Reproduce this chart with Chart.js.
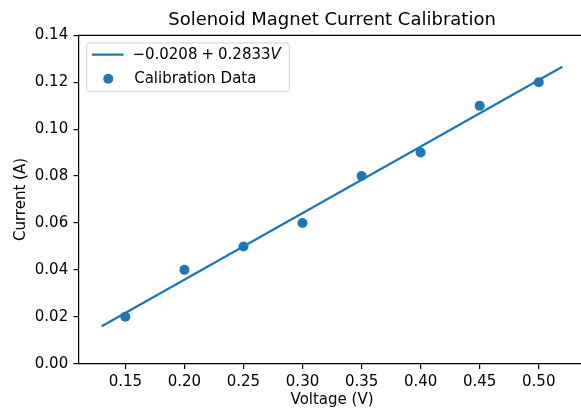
<!DOCTYPE html>
<html>
<head>
<meta charset="utf-8">
<script src="https://cdn.jsdelivr.net/npm/chart.js@4/dist/chart.umd.min.js"></script>
<style>
  html, body { margin: 0; padding: 0; background: #fff; overflow: hidden; }
  #wrap { width: 581px; height: 410px; overflow: hidden; }
</style>
</head>
<body>
<div id="wrap"><canvas id="grafico" width="664" height="410"></canvas></div>
<script>
// dados de calibração
const voltage = [0.15, 0.20, 0.25, 0.30, 0.35, 0.40, 0.45, 0.50];
const current = [0.02, 0.04, 0.05, 0.06, 0.08, 0.09, 0.11, 0.12];

// reta ajustada (extremos)
const fitVoltage = [0.13, 0.52];
const fitCurrent = [0.016, 0.1266];

const xTickValues = [0.15, 0.20, 0.25, 0.30, 0.35, 0.40, 0.45, 0.50];
const yTickValues = [0.00, 0.02, 0.04, 0.06, 0.08, 0.10, 0.12, 0.14];

// legenda: "−0.0208 + 0.2833V" em pedaços (V em itálico)
const fitLabel = ['\u22120.0208', '+', '0.2833', 'V'];
const dataLabel = 'Calibration Data';

const azul = '#1f77b4';
const fonte = "'DejaVu Sans', sans-serif";

Chart.defaults.color = '#000';
Chart.defaults.font.family = fonte;

// moldura de cima/direita + legenda dentro do gráfico
const extras = {
    id: 'extras',
    afterDraw(chart) {
        const ctx = chart.ctx;
        const a = chart.chartArea;
        ctx.save();
        ctx.strokeStyle = '#000';
        ctx.lineWidth = 1.2;
        ctx.beginPath();
        ctx.moveTo(a.left, a.top);
        ctx.lineTo(a.right, a.top);
        ctx.lineTo(a.right, a.bottom);
        ctx.stroke();

        // caixa da legenda
        const bx = a.left + 8, by = a.top + 7.7, bw = 202.6, bh = 48.3, r = 3;
        ctx.fillStyle = 'rgba(255,255,255,0.8)';
        ctx.strokeStyle = '#d0d0d0';
        ctx.lineWidth = 1;
        ctx.beginPath();
        ctx.roundRect(bx, by, bw, bh, r);
        ctx.fill();
        ctx.stroke();

        const y1 = by + 11.7, y2 = by + 35.7;
        ctx.strokeStyle = azul;
        ctx.lineWidth = 2.25;
        ctx.beginPath();
        ctx.moveTo(bx + 5.2, y1);
        ctx.lineTo(bx + 36.8, y1);
        ctx.stroke();

        ctx.fillStyle = azul;
        ctx.beginPath();
        ctx.arc(bx + 21.6, y2, 5, 0, Math.PI * 2);
        ctx.fill();

        ctx.fillStyle = '#000';
        ctx.textBaseline = 'middle';
        ctx.textAlign = 'left';
        const normal = '15px ' + fonte;
        const italico = 'italic 15px ' + fonte;
        let x = bx + 45.7;
        const gap = 4;
        ctx.font = normal;
        ctx.fillText(fitLabel[0], x, y1);
        x += ctx.measureText(fitLabel[0]).width + gap;
        ctx.fillText(fitLabel[1], x, y1);
        x += ctx.measureText(fitLabel[1]).width + gap;
        ctx.fillText(fitLabel[2], x, y1);
        x += ctx.measureText(fitLabel[2]).width;
        ctx.font = italico;
        ctx.fillText(fitLabel[3], x, y1);

        ctx.font = normal;
        ctx.fillText(dataLabel, bx + 47.5, y2);
        ctx.restore();
    }
};

new Chart(document.getElementById('grafico'), {
    type: 'scatter',
    data: {
        datasets: [
            {
                label: dataLabel,
                data: voltage.map((v, i) => ({ x: v, y: current[i] })),
                backgroundColor: azul,
                borderWidth: 0,
                pointRadius: 5,
                pointHoverRadius: 5
            },
            {
                type: 'line',
                label: fitLabel.join(' '),
                data: fitVoltage.map((v, i) => ({ x: v, y: fitCurrent[i] })),
                borderColor: azul,
                borderWidth: 2.25,
                pointRadius: 0,
                fill: false,
                tension: 0
            }
        ]
    },
    options: {
        responsive: false,
        animation: false,
        devicePixelRatio: 1,
        layout: { padding: 0 },
        plugins: {
            legend: { display: false },
            tooltip: { enabled: false },
            title: {
                display: true,
                text: 'Solenoid Magnet Current Calibration',
                font: { size: 18, weight: 'normal', lineHeight: 1.2 },
                padding: { top: 10, bottom: 3.7 },
                color: '#000'
            }
        },
        scales: {
            x: {
                type: 'linear',
                min: 0.1105,
                max: 0.5395,
                afterBuildTicks: s => { s.ticks = xTickValues.map(v => ({ value: v })); },
                afterFit: s => { s.height = 46.3; },
                ticks: {
                    font: { size: 15, lineHeight: 1.2 },
                    padding: 4,
                    maxRotation: 0,
                    autoSkip: false,
                    callback: v => v.toFixed(2)
                },
                grid: { drawOnChartArea: false, drawTicks: true, tickLength: 5.25, color: '#000', lineWidth: 1.2 },
                border: { display: true, color: '#000', width: 1.2 },
                title: {
                    display: true,
                    text: 'Voltage (V)',
                    font: { size: 15, lineHeight: 1.2 },
                    padding: { top: 0, bottom: 0.5 }
                }
            },
            y: {
                type: 'linear',
                min: 0,
                max: 0.14,
                afterBuildTicks: s => { s.ticks = yTickValues.map(v => ({ value: v })); },
                afterFit: s => { s.width = 78.7; },
                ticks: {
                    font: { size: 15 },
                    padding: 5.25,
                    autoSkip: false,
                    callback: v => v.toFixed(2)
                },
                grid: { drawOnChartArea: false, drawTicks: true, tickLength: 5.25, color: '#000', lineWidth: 1.2 },
                border: { display: true, color: '#000', width: 1.2 },
                title: {
                    display: true,
                    text: 'Current (A)',
                    font: { size: 15, lineHeight: 1.2 },
                    padding: { top: 12, bottom: 0 }
                }
            },
            // eixo vazio só para reservar a margem da direita
            y2: {
                type: 'linear',
                position: 'right',
                min: 0,
                max: 1,
                afterFit: s => { s.width = 78.6; },
                ticks: { display: false },
                grid: { display: false },
                border: { display: false }
            }
        }
    },
    plugins: [extras]
});
</script>
</body>
</html>
